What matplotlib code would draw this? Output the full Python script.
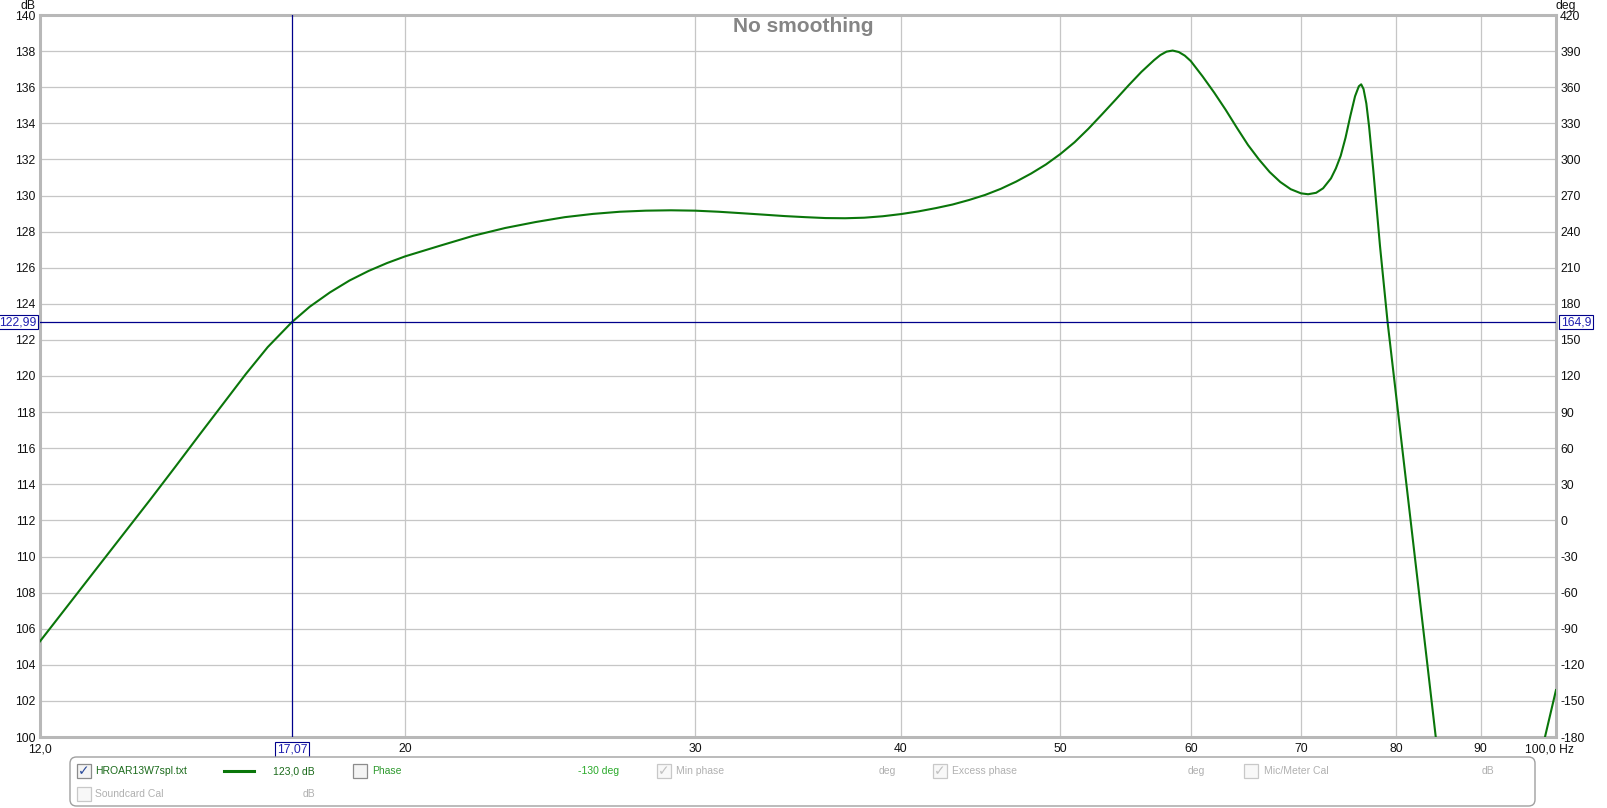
import matplotlib
matplotlib.use('Agg')
import matplotlib.pyplot as plt
from matplotlib.patches import FancyBboxPatch, Rectangle
from matplotlib.lines import Line2D
from matplotlib.ticker import NullLocator, FixedLocator

plt.rcParams['font.family'] = ['Liberation Sans', 'DejaVu Sans']

# ---------------- data ----------------
freq_hz = [12.0, 12.5, 13.0, 13.5, 14.0, 14.5, 15.0, 15.5, 16.0, 16.5,
           17.07, 17.5, 18.0, 18.5, 19.0, 19.5, 20.0, 21.0, 22.0, 23.0,
           24.0, 25.0, 26.0, 27.0, 28.0, 29.0, 30.0, 31.0, 32.0, 33.0,
           34.0, 35.0, 36.0, 37.0, 38.0, 39.0, 40.0, 41.0, 42.0, 43.0,
           44.0, 45.0, 46.0, 47.0, 48.0, 49.0, 50.0, 51.0, 52.0, 53.0,
           54.0, 55.0, 56.0, 57.0, 57.5, 58.0, 58.5, 59.0, 59.5, 60.0,
           61.0, 62.0, 63.0, 64.0, 65.0, 66.0, 67.0, 68.0, 69.0, 70.0,
           70.7, 71.5, 72.2, 73.0, 73.5, 74.0, 74.5, 75.0, 75.5, 75.9,
           76.15, 76.4, 76.7, 77.0, 77.45, 78.18, 79.02, 80.5, 82.0, 83.5,
           84.52, 86.0, 88.0, 90.0, 92.0, 94.0, 96.0, 98.47, 100.0]
spl_db = [105.30, 107.38, 109.38, 111.30, 113.15, 114.97, 116.75, 118.45, 120.10, 121.60,
          122.99, 123.84, 124.63, 125.29, 125.82, 126.26, 126.63, 127.22, 127.77, 128.20,
          128.53, 128.80, 128.98, 129.10, 129.16, 129.18, 129.16, 129.10, 129.02, 128.94,
          128.86, 128.80, 128.75, 128.74, 128.77, 128.85, 128.97, 129.12, 129.30, 129.50,
          129.75, 130.03, 130.37, 130.77, 131.22, 131.72, 132.30, 132.95, 133.70, 134.50,
          135.30, 136.10, 136.85, 137.50, 137.78, 137.97, 138.03, 137.95, 137.75, 137.45,
          136.60, 135.70, 134.75, 133.75, 132.80, 132.00, 131.30, 130.75, 130.35, 130.12,
          130.07, 130.15, 130.40, 130.95, 131.50, 132.20, 133.20, 134.40, 135.50, 136.05,
          136.16, 135.90, 135.10, 133.80, 131.40, 127.20, 122.96, 116.63, 110.33, 104.16,
          100.00, 95.00, 90.50, 88.50, 88.50, 90.50, 94.00, 100.00, 102.60]

x_ticks = [12, 20, 30, 40, 50, 60, 70, 80, 90, 100]
x_tick_labels = ['12,0', '20', '30', '40', '50', '60', '70', '80', '90', '']
x_last_label = '100,0 Hz'
db_ticks = list(range(100, 141, 2))
deg_ticks = list(range(-180, 421, 30))
cursor_freq = 17.07
cursor_db = 122.99
cursor_freq_label = '17,07'
cursor_db_label = '122,99'
cursor_deg_label = '164,9'
title = 'No smoothing'

# ---------------- layout ----------------
W, H = 1607, 808
fig = plt.figure(figsize=(W / 100, H / 100), dpi=100)
fig.patch.set_facecolor('white')


def px(x):
    return x / W


def py(y):
    return 1 - y / H


TS = 8.7  # tick font size
L, R, T, B = 40, 1556, 15, 737
ax = fig.add_axes([px(L), py(B), (R - L) / W, (B - T) / H])
ax.set_xscale('log')
ax.set_xlim(12, 100)
ax.set_ylim(100, 140)
ax.xaxis.set_major_locator(FixedLocator(x_ticks))
ax.xaxis.set_minor_locator(NullLocator())
ax.set_xticklabels(x_tick_labels)
ax.set_yticks(db_ticks)
ax.set_yticklabels([str(v) for v in db_ticks])
ax.grid(True, color='#c6c6c6', lw=0.9, zorder=0)
ax.set_axisbelow(True)
ax.tick_params(axis='both', length=0, labelsize=TS, colors='#111111')
ax.tick_params(axis='x', pad=4.5)
ax.tick_params(axis='y', pad=3)
for s in ax.spines.values():
    s.set_color('#b8b8b8')
    s.set_linewidth(2.2)

ax2 = ax.twinx()
ax2.set_ylim(-180, 420)
ax2.set_yticks(deg_ticks)
ax2.set_yticklabels([str(v) for v in deg_ticks])
ax2.tick_params(axis='y', length=0, labelsize=TS, colors='#111111', pad=3)
for s in ax2.spines.values():
    s.set_visible(False)

# data line
ax.plot(freq_hz, spl_db, color='#0a760a', lw=1.5, zorder=4, solid_joinstyle='round')

# cursor
cur_col = '#00008b'
ax.axvline(cursor_freq, color=cur_col, lw=0.9, zorder=5)
ax.axhline(cursor_db, color=cur_col, lw=0.9, zorder=5)
bbox_kw = dict(boxstyle='square,pad=0.12', fc='white', ec=cur_col, lw=0.8)
ax.annotate(cursor_freq_label, xy=(cursor_freq, 0), xycoords=ax.get_xaxis_transform(),
            xytext=(0, -4.5), textcoords='offset points', ha='center', va='top',
            fontsize=TS, color='#2020b0', bbox=bbox_kw, annotation_clip=False, zorder=10)
ax.annotate(cursor_db_label, xy=(0, cursor_db), xycoords=ax.get_yaxis_transform(),
            xytext=(-2.5, 0), textcoords='offset points', ha='right', va='center',
            fontsize=TS, color='#2020b0', bbox=bbox_kw, annotation_clip=False, zorder=10)
ax.annotate(cursor_deg_label, xy=(1, cursor_db), xycoords=ax.get_yaxis_transform(),
            xytext=(3.5, 0), textcoords='offset points', ha='left', va='center',
            fontsize=TS, color='#2020b0', bbox=bbox_kw, annotation_clip=False, zorder=10)

# last x label with unit, and axis unit labels
fig.text(px(1574), py(749), x_last_label, ha='right', va='center', fontsize=TS, color='#111111')
fig.text(px(28), py(6), 'dB', ha='center', va='center', fontsize=TS, color='#111111')
fig.text(px(1566), py(6), 'deg', ha='center', va='center', fontsize=TS, color='#111111')

# title
fig.text(px(803), py(27), title, ha='center', va='center', fontsize=15,
         fontweight='bold', color='#858585')

# ---------------- legend panel ----------------
panel = FancyBboxPatch((px(70), py(806)), (1535 - 70) / W, (806 - 757) / H,
                       boxstyle='round,pad=0,rounding_size=0.004', mutation_aspect=W / H,
                       transform=fig.transFigure, fc='white', ec='#a0a0a0', lw=1.0)
fig.patches.append(panel)


def checkbox(x, y, checked, enabled):
    r = Rectangle((px(x), py(y + 14)), 14 / W, 14 / H, transform=fig.transFigure,
                  fc='#f4f4f4' if enabled else '#f8f8f8',
                  ec='#8c8c8c' if enabled else '#c8c8c8', lw=0.9)
    fig.patches.append(r)
    if checked:
        fig.text(px(x + 7), py(y + 7), '\u2713', ha='center', va='center',
                 fontsize=10, fontweight='bold',
                 color='#2a4a9a' if enabled else '#c0c0c0', family='DejaVu Sans')


row1, row2 = 771, 794
gray = '#b0b0b0'
LS = 7.5
checkbox(77, row1 - 7, True, True)
fig.text(px(95), py(row1), 'HROAR13W7spl.txt', ha='left', va='center', fontsize=LS, color='#1a6a1a')
fig.lines.append(Line2D([px(224), px(254)], [py(row1), py(row1)], transform=fig.transFigure,
                        color='#0a760a', lw=2.2))
fig.text(px(315), py(row1), '123,0 dB', ha='right', va='center', fontsize=LS, color='#1a6a1a')
checkbox(353, row1 - 7, False, True)
fig.text(px(372), py(row1), 'Phase', ha='left', va='center', fontsize=LS, color='#2e9a2e')
fig.text(px(619), py(row1), '-130 deg', ha='right', va='center', fontsize=LS, color='#2aaa2a')
checkbox(657, row1 - 7, True, False)
fig.text(px(676), py(row1), 'Min phase', ha='left', va='center', fontsize=LS, color=gray)
fig.text(px(896), py(row1), 'deg', ha='right', va='center', fontsize=LS, color=gray)
checkbox(933, row1 - 7, True, False)
fig.text(px(952), py(row1), 'Excess phase', ha='left', va='center', fontsize=LS, color=gray)
fig.text(px(1205), py(row1), 'deg', ha='right', va='center', fontsize=LS, color=gray)
checkbox(1244, row1 - 7, False, False)
fig.text(px(1264), py(row1), 'Mic/Meter Cal', ha='left', va='center', fontsize=LS, color=gray)
fig.text(px(1494), py(row1), 'dB', ha='right', va='center', fontsize=LS, color=gray)
checkbox(77, row2 - 7, False, False)
fig.text(px(95), py(row2), 'Soundcard Cal', ha='left', va='center', fontsize=LS, color=gray)
fig.text(px(315), py(row2), 'dB', ha='right', va='center', fontsize=LS, color=gray)

fig.savefig('out.png', dpi=100, facecolor='white')
